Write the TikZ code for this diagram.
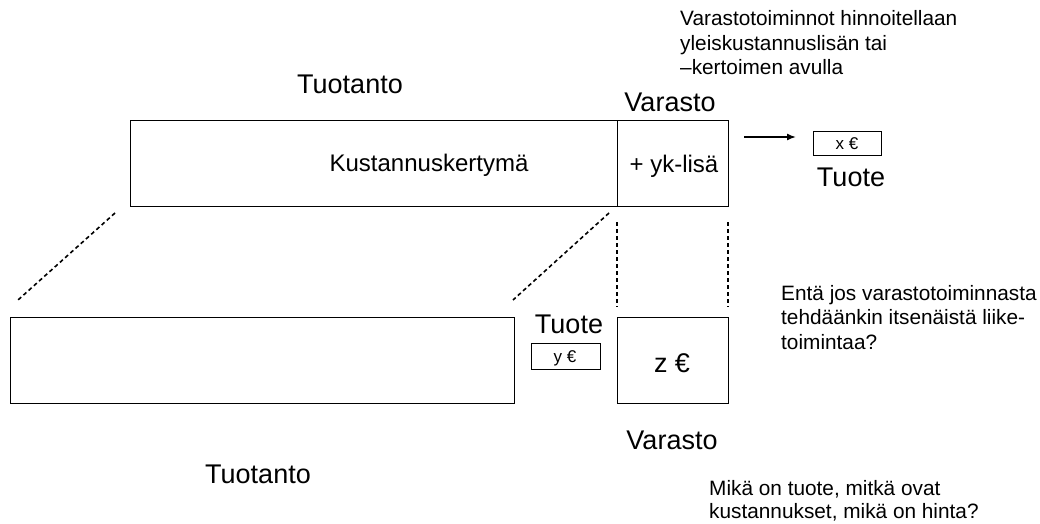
\documentclass[tikz,border=0pt]{standalone}
\usepackage{fontspec}
\setmainfont{Liberation Sans}
\usetikzlibrary{arrows.meta}
\begin{document}
\begin{tikzpicture}[x=1pt,y=-1pt,
  box/.style={draw=black,line width=1pt},
  dline/.style={line width=1.6pt,dash pattern=on 4pt off 3pt},
  big/.style={font=\fontsize{27}{30}\selectfont,inner sep=0pt,anchor=base},
  mid/.style={font=\fontsize{24}{28}\selectfont,inner sep=0pt,anchor=base},
  small/.style={font=\fontsize{20.8}{24.5}\selectfont,inner sep=0pt,anchor=base west,align=left},
  tiny/.style={font=\fontsize{17}{19}\selectfont,inner sep=0pt,anchor=base}]
\useasboundingbox (0,0) rectangle (1040,524);
% top box
\draw[box] (130,120) rectangle (728,206);
\draw[box] (617,120) -- (617,206);
\node[big] (tuotA) at (350,94) {Tuotanto};
\node[big] (varA) at (670,112) {Varasto};
\node[mid] (kust) at (429,171) {Kustannuskertymä};
\node[mid] (yk) at (674,172) {+ yk-lisä};
% top right
\node[small] (info) at (680,75) {Varastotoiminnot hinnoitellaan\\yleiskustannuslisän tai\\–kertoimen avulla};
\node[draw,line width=0.8pt,minimum width=68pt,minimum height=24pt,inner sep=0pt] (xbox) at (847,143) {};
\node[tiny] (xe) at (847,149.5) {x €};
\node[big] (tuoteA) at (851,186) {Tuote};
\coordinate (arS) at (744,137);
\coordinate (arE) at (796,137);
\draw[line width=1.5pt,-{Latex[length=9pt,width=7pt]}] (arS) -- (arE);
% dashed
\coordinate (d1a) at (115,213); \coordinate (d1b) at (18,300);
\coordinate (d2a) at (609,213); \coordinate (d2b) at (513,300);
\coordinate (d3a) at (617,222); \coordinate (d3b) at (617,307);
\coordinate (d4a) at (728,222); \coordinate (d4b) at (728,307);
\draw[dline] (d1a) -- (d1b);
\draw[dline] (d2a) -- (d2b);
\draw[dline] (d3a) -- (d3b);
\draw[dline] (d4a) -- (d4b);
% bottom
\node[box,minimum width=504pt,minimum height=86pt,inner sep=0pt] (prod) at (262,360) {};
\node[box,minimum width=111pt,minimum height=86pt,inner sep=0pt] (zbox) at (672.5,360) {};
\node[big] (ze) at (672,372) {z €};
\node[big] (tuoteB) at (569,333) {Tuote};
\node[draw,line width=0.8pt,minimum width=69pt,minimum height=26pt,inner sep=0pt] (ybox) at (565.5,356) {};
\node[tiny] (ye) at (565,362.5) {y €};
\node[big] (varB) at (672,449) {Varasto};
\node[big] (tuotB) at (258,483) {Tuotanto};
\node[small] (enta) at (781,349) {Entä jos varastotoiminnasta\\tehdäänkin itsenäistä liike-\\toimintaa?};
\node[small,font=\fontsize{20.8}{23}\selectfont] (mika) at (709,518) {Mikä on tuote, mitkä ovat\\kustannukset, mikä on hinta?};
\end{tikzpicture}
\end{document}
